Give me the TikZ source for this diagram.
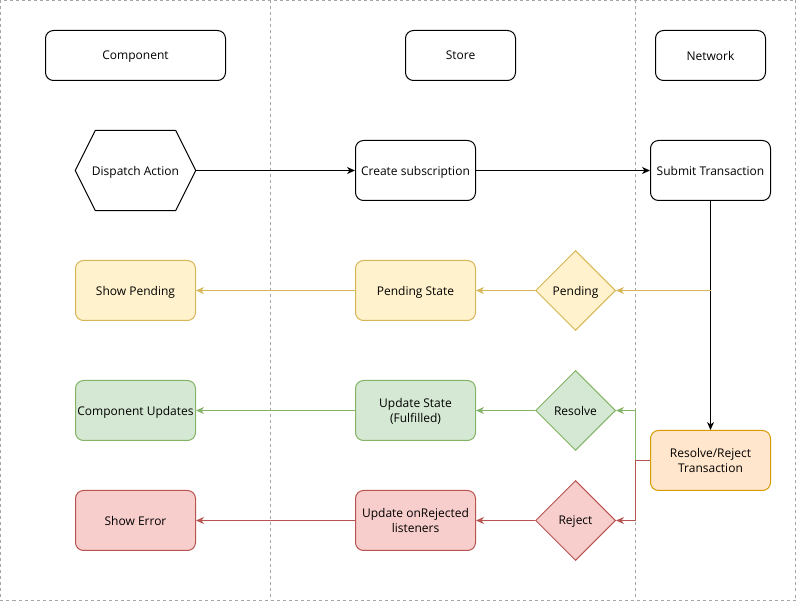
\documentclass[tikz,border=0pt]{standalone}
\usepackage{fontspec}
\setmainfont{Open Sans}
\usetikzlibrary{arrows.meta,calc,shapes.geometric}
\definecolor{ylf}{HTML}{FFF2CC}\definecolor{yls}{HTML}{D6B656}
\definecolor{grf}{HTML}{D5E8D4}\definecolor{grs}{HTML}{82B366}
\definecolor{rdf}{HTML}{F8CECC}\definecolor{rds}{HTML}{B85450}
\definecolor{orf}{HTML}{FFE6CC}\definecolor{ors}{HTML}{D79B00}
\definecolor{lanec}{HTML}{A6A6A6}
\tikzset{
  every node/.style={font=\fontsize{12}{15}\selectfont, align=center, inner sep=0pt, text depth=0pt},
  box/.style={draw, rounded corners=8pt, line width=1pt, minimum width=120pt, minimum height=60pt},
  hdr/.style={box, minimum height=50pt},
  dia/.style={draw, shape=diamond, line width=1pt, minimum width=80pt, minimum height=80pt},
  yl/.style={fill=ylf, draw=yls},
  gr/.style={fill=grf, draw=grs},
  rd/.style={fill=rdf, draw=rds},
  og/.style={fill=orf, draw=ors},
  conn/.style={line width=1pt, -{Stealth[length=8pt,width=7pt,inset=2.5pt]}},
  lane/.style={draw=lanec, line width=0.8pt, dash pattern=on 3pt off 3pt}
}
\begin{document}
\begin{tikzpicture}[x=1pt,y=-1pt]
\useasboundingbox (0,0) rectangle (796,601);
% lanes
\draw[lane] (0.5,0.5) rectangle (795.5,600.5);
\coordinate (l1t) at (270.5,0.5); \coordinate (l1b) at (270.5,600.5);
\coordinate (l2t) at (635.5,0.5); \coordinate (l2b) at (635.5,600.5);
\draw[lane] (l1t) -- (l1b);
\draw[lane] (l2t) -- (l2b);
\begin{scope}[shift={(0.5,0.5)}]
% headers
\node[hdr, minimum width=180pt] (comp) at (135,55) {Component};
\node[hdr, minimum width=110pt] (store) at (460,55) {Store};
\node[hdr, minimum width=110pt] (net) at (710,55) {Network};
% row 1
\node[minimum width=120pt, minimum height=80pt] (dispatch) at (135,170) {Dispatch Action};
\draw[line width=1pt] (dispatch.west) -- ($(dispatch.north west)+(20,0)$) -- ($(dispatch.north east)+(-20,0)$) -- (dispatch.east) -- ($(dispatch.south east)+(-20,0)$) -- ($(dispatch.south west)+(20,0)$) -- cycle;
\node[box] (create) at (415,170) {Create subscription};
\node[box] (submit) at (710,170) {Submit Transaction};
% row 2
\node[box, yl] (showp) at (135,290) {Show Pending};
\node[box, yl] (pstate) at (415,290) {Pending State};
\node[dia, yl] (pend) at (575,290) {Pending};
% row 3
\node[box, gr] (cupd) at (135,410) {Component Updates};
\node[box, gr] (ustate) at (415,410) {Update State\\(Fulfilled)};
\node[dia, gr] (res) at (575,410) {Resolve};
% row 4
\node[box, rd] (serr) at (135,520) {Show Error};
\node[box, rd] (urej) at (415,520) {Update onRejected\\listeners};
\node[dia, rd] (rej) at (575,520) {Reject};
% resolve/reject
\node[box, og] (rr) at (710,460) {Resolve/Reject\\Transaction};
% connectors
\draw[conn] (dispatch.east) -- (create.west);
\draw[conn] (create.east) -- (submit.west);
\draw[conn] (submit.south) -- (rr.north);
\coordinate (pj) at (710,290);
\draw[conn, draw=yls] (pj) -- (pend.east);
\draw[conn, draw=yls] (pend.west) -- (pstate.east);
\draw[conn, draw=yls] (pstate.west) -- (showp.east);
\coordinate (bj) at (635,460);
\draw[conn, draw=grs] (bj) |- (res.east);
\draw[conn, draw=grs] (res.west) -- (ustate.east);
\draw[conn, draw=grs] (ustate.west) -- (cupd.east);
\draw[conn, draw=rds] (rr.west) -- (bj) |- (rej.east);
\draw[conn, draw=rds] (rej.west) -- (urej.east);
\draw[conn, draw=rds] (urej.west) -- (serr.east);
\end{scope}
\end{tikzpicture}
\end{document}
